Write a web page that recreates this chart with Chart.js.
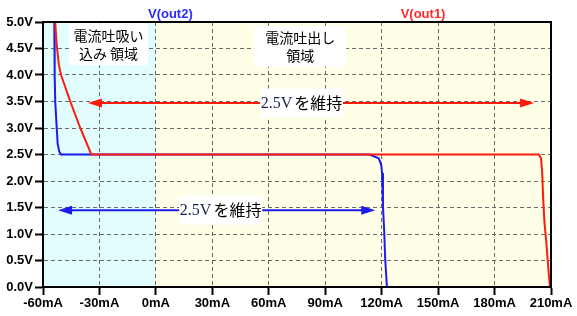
<!DOCTYPE html>
<html><head><meta charset="utf-8">
<script src="https://cdn.jsdelivr.net/npm/chart.js@4"></script>
<style>html,body{margin:0;padding:0;background:#fff}</style>
</head><body>
<canvas id="c" width="577" height="316" style="display:block;width:577px;height:316px"></canvas>
<script>
// ---- data ----
const out2Current = [-54.0, -53.8, -53.5, -52.7, -52.2, -51.3, -50.4, 113.6, 118.4, 119.8, 120.2, 120.7, 121.4, 121.9, 122.8];
const out2Voltage = [5.0, 4.0, 3.5, 3.0, 2.7, 2.55, 2.5, 2.5, 2.43, 2.30, 2.15, 1.52, 1.01, 0.51, 0.0];
const out1Current = [-53.5, -52.8, -51.6, -50.4, -45.5, -40.2, -34.3, 203.5, 204.7, 205.3, 205.8, 206.5, 207.4, 208.1, 208.8, 209.5];
const out1Voltage = [5.0, 4.6, 4.2, 4.0, 3.5, 3.0, 2.5, 2.5, 2.43, 2.18, 1.70, 1.23, 0.89, 0.57, 0.26, 0.0];
const xTicks = [-60, -30, 0, 30, 60, 90, 120, 150, 180, 210];
const yTicks = [0, 0.5, 1.0, 1.5, 2.0, 2.5, 3.0, 3.5, 4.0, 4.5, 5.0];
const seriesNames = ['V(out2)', 'V(out1)'];
const sinkRegion = [-60, 0];
const sourceRegion = [0, 210];
const sinkLabel = ['電流吐吸い', '込み 領域'];
const sourceLabel = ['電流吐出し', '領域'];
const holdNum = '2.5V';
const holdText = 'を維持';
const redArrow = [-36.1, 201.0, 3.47];   // from mA, to mA, at V
const blueArrow = [-52.0, 116.6, 1.45];

const BLUE = '#1c1cf0', RED = '#ff1a0a';
const toPts = (xs, ys) => xs.map((x, i) => ({x, y: ys[i]}));

const JP = '"Noto Sans CJK JP", sans-serif';
const deco = {
  id: 'deco',
  beforeDraw(chart) {
    const {ctx, chartArea: a, scales: {x, y}} = chart;
    ctx.save();
    ctx.fillStyle = '#fff';
    ctx.fillRect(0, 0, chart.width, chart.height);
    ctx.fillStyle = '#e2fdfd';
    ctx.fillRect(x.getPixelForValue(sinkRegion[0]), a.top, x.getPixelForValue(sinkRegion[1]) - x.getPixelForValue(sinkRegion[0]), a.bottom - a.top);
    ctx.fillStyle = '#fffee6';
    ctx.fillRect(x.getPixelForValue(sourceRegion[0]), a.top, x.getPixelForValue(sourceRegion[1]) - x.getPixelForValue(sourceRegion[0]), a.bottom - a.top);
    ctx.restore();
  },
  afterDatasetsDraw(chart) {
    const {ctx, scales: {x, y}} = chart;
    const arrow = (spec, color) => {
      const x1 = x.getPixelForValue(spec[0]), x2 = x.getPixelForValue(spec[1]), yy = y.getPixelForValue(spec[2]);
      ctx.save();
      ctx.strokeStyle = color; ctx.fillStyle = color; ctx.lineWidth = 2;
      ctx.beginPath(); ctx.moveTo(x1 + 8, yy); ctx.lineTo(x2 - 8, yy); ctx.stroke();
      const head = (tx, dir) => {
        ctx.beginPath();
        ctx.moveTo(tx, yy);
        ctx.lineTo(tx + dir * 14, yy - 4.5);
        ctx.lineTo(tx + dir * 14, yy + 4.5);
        ctx.closePath(); ctx.fill();
      };
      head(x1, 1); head(x2, -1);
      ctx.restore();
      return yy;
    };
    const holdBox = (cx, cy) => {
      const w = 83, h = 29;
      ctx.save();
      ctx.fillStyle = '#fff';
      ctx.fillRect(cx - w / 2, cy - h / 2, w, h);
      ctx.textBaseline = 'middle';
      ctx.font = '16px "Liberation Serif", serif';
      const w1 = ctx.measureText(holdNum).width;
      ctx.font = '16px ' + JP;
      const w2 = ctx.measureText(holdText).width;
      let sx = cx - (w1 + w2 + 2) / 2;
      ctx.font = '16px "Liberation Serif", serif';
      ctx.fillStyle = '#1a2450';
      ctx.fillText(holdNum, sx, cy + 1);
      ctx.font = '16px ' + JP;
      ctx.fillStyle = '#000';
      ctx.fillText(holdText, sx + w1 + 2, cy);
      ctx.restore();
    };
    const yr = arrow(redArrow, RED);
    const yb = arrow(blueArrow, BLUE);
    holdBox(x.getPixelForValue(77.4), yr);
    holdBox(x.getPixelForValue(34.4), yb);

    const noteBox = (lines, cx, cy, w, h) => {
      ctx.save();
      ctx.fillStyle = '#fff';
      ctx.fillRect(cx - w / 2, cy - h / 2, w, h);
      ctx.fillStyle = '#000';
      ctx.font = '14px ' + JP;
      ctx.textAlign = 'center';
      ctx.textBaseline = 'middle';
      ctx.fillText(lines[0], cx, cy - 8.5);
      ctx.fillText(lines[1], cx, cy + 9);
      ctx.restore();
    };
    noteBox(sinkLabel, x.getPixelForValue(-25.2), y.getPixelForValue(4.58), 79, 42);
    noteBox(sourceLabel, x.getPixelForValue(76.7), y.getPixelForValue(4.54), 92, 41);
  },
  afterDraw(chart) {
    const {ctx, chartArea: a, scales: {x}} = chart;
    ctx.save();
    ctx.strokeStyle = '#000'; ctx.lineWidth = 2;
    ctx.strokeRect(a.left, a.top, a.right - a.left, a.bottom - a.top);
    ctx.font = 'bold 13px "Liberation Sans", Arial, sans-serif';
    ctx.textAlign = 'center'; ctx.textBaseline = 'middle';
    ctx.fillStyle = '#2a2aff';
    ctx.fillText(seriesNames[0], x.getPixelForValue(7.7), 14);
    ctx.fillStyle = '#ff2a2a';
    ctx.fillText(seriesNames[1], x.getPixelForValue(142), 14);
    ctx.restore();
  }
};

const tickFont = {family: '"Liberation Sans", Arial, sans-serif', size: 13, weight: 'bold'};
new Chart(document.getElementById('c'), {
  type: 'scatter',
  data: {
    datasets: [
      {label: seriesNames[0], order: 1, data: toPts(out2Current, out2Voltage), showLine: true, borderColor: BLUE, borderWidth: 2, pointRadius: 0, tension: 0},
      {label: seriesNames[1], order: 0, data: toPts(out1Current, out1Voltage), showLine: true, borderColor: RED, borderWidth: 2, pointRadius: 0, tension: 0}
    ]
  },
  options: {
    responsive: false, animation: false, devicePixelRatio: 1,
    layout: {padding: {top: 22, right: 26, left: 0, bottom: 0}},
    plugins: {legend: {display: false}, tooltip: {enabled: false}},
    scales: {
      x: {
        type: 'linear', min: -60, max: 210,
        afterBuildTicks: s => { s.ticks = xTicks.map(v => ({value: v})); },
        afterFit: s => { s.height = 29; },
        ticks: {callback: v => v + 'mA', font: tickFont, color: '#000', padding: 1, maxRotation: 0, autoSkip: false},
        grid: {color: '#6a6a6a', lineWidth: 1, tickColor: '#000', tickLength: 8, tickWidth: 2},
        border: {display: true, color: '#000', width: 2, dash: [4, 3]}
      },
      y: {
        type: 'linear', min: 0, max: 5,
        afterBuildTicks: s => { s.ticks = yTicks.map(v => ({value: v})); },
        afterFit: s => { s.width = 43; },
        ticks: {callback: v => v.toFixed(1) + 'V', font: tickFont, color: '#000', padding: 2, autoSkip: false},
        grid: {color: '#6a6a6a', lineWidth: 1, tickColor: '#000', tickLength: 8, tickWidth: 2},
        border: {display: true, color: '#000', width: 2, dash: [4, 3]}
      }
    }
  },
  plugins: [deco]
});
</script>
</body></html>
